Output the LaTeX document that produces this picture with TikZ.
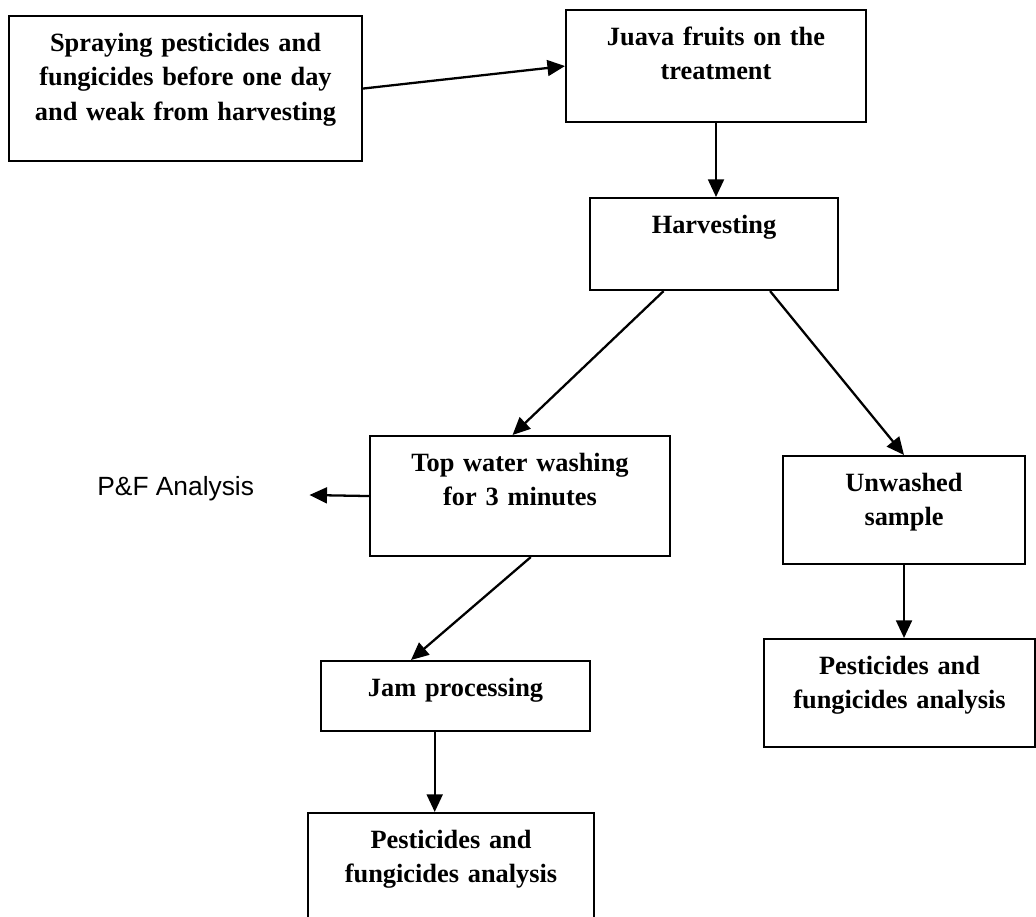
\documentclass[tikz,border=0pt]{standalone}
\usepackage{fontspec}
\setmainfont{Liberation Serif}
\newfontfamily\pfsans{Liberation Sans}
\usetikzlibrary{arrows.meta}
\newcommand{\stagefont}{\fontsize{15}{19.6}\selectfont\bfseries}
\begin{document}
\begin{tikzpicture}[x=0.02cm,y=-0.02cm,
  stage/.style={draw, line width=1.2pt, anchor=north west, align=center,
    inner xsep=0pt, inner ysep=0.35cm, text height=0.36cm, font=\stagefont},
  flow/.style={line width=1.3pt, -{Triangle[length=10pt,width=9pt]}}]
\useasboundingbox (0,0) rectangle (1036,917);
\node[stage, text width=7.06cm, text depth=1.84cm] (spray) at (8,15)
{Spraying pesticides and\\fungicides before one day\\and weak from harvesting};
\node[stage, text width=6.0cm, text depth=1.18cm] (fruits) at (565,9)
{Juava fruits on the\\treatment};
\node[stage, text width=4.96cm, text depth=0.78cm] (harvest) at (589,197)
{Harvesting};
\node[stage, text width=6.0cm, text depth=1.34cm] (wash) at (369,435)
{Top water washing\\for 3 minutes};
\node[stage, text width=4.84cm, text depth=1.10cm] (unwashed) at (782,455)
{Unwashed\\sample};
\node[stage, text width=5.38cm, text depth=0.34cm] (jam) at (320,660)
{Jam processing};
\node[stage, text width=5.42cm, text depth=1.10cm] (rawtest) at (763,638)
{Pesticides and\\fungicides analysis};
\node[stage, text width=5.72cm, text depth=1.30cm] (jamtest) at (307,812)
{Pesticides and\\fungicides analysis};
\node[anchor=base west, inner sep=0pt, font=\pfsans\fontsize{15}{18}\selectfont] (pfa) at (97,495)
{P\&F Analysis};
\draw[flow] (spray.east) -- (fruits.west);
\draw[flow] (fruits.south) -- (fruits.south |- harvest.north);
\draw[flow] (harvest.223) -- (wash.97);
\draw[flow] (harvest.-40) -- (unwashed.north);
\draw[flow] (wash.west) -- ([xshift=1.1cm]pfa.base east);
\draw[flow] (wash.-80) -- (jam.141);
\draw[flow] (jam.-120) -- (jam.-120 |- jamtest.north);
\draw[flow] (unwashed.south) -- (unwashed.south |- rawtest.north);
\end{tikzpicture}
\end{document}
